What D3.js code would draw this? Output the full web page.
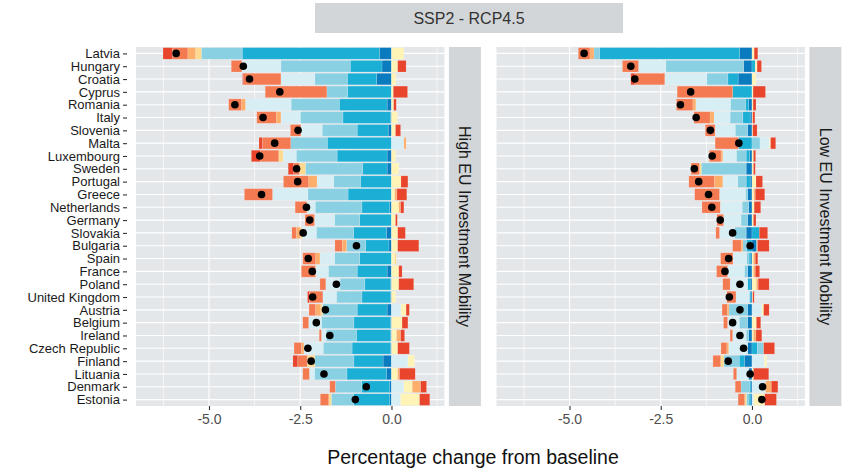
<!DOCTYPE html>
<html>
<head>
<meta charset="utf-8">
<script src="https://cdn.jsdelivr.net/npm/d3@7"></script>
<style>
  html, body { margin: 0; padding: 0; background: #fff; }
  svg { display: block; font-family: "Liberation Sans", Arial, sans-serif; }
</style>
</head>
<body>
<div id="chart"></div>
<script>
// Decomposition of the change from baseline, SSP2 - RCP4.5

const countries = [
  "Latvia", "Hungary", "Croatia", "Cyprus", "Romania", "Italy", "Slovenia",
  "Malta", "Luxembourg", "Sweden", "Portugal", "Greece", "Netherlands",
  "Germany", "Slovakia", "Bulgaria", "Spain", "France", "Poland",
  "United Kingdom", "Austria", "Belgium", "Ireland", "Czech Republic",
  "Finland", "Lituania", "Denmark", "Estonia"
];

// nine components, stacked outwards from zero in this order
const components = ["k1", "k2", "k3", "k4", "k5", "k6", "k7", "k8", "k9"];
const componentColors = [
  "#0b7bbf", "#1cafd6", "#8ad0e3", "#d7eef5", "#fff3b5",
  "#fed98e", "#fdae6b", "#f47a52", "#e8452c"
];

const scenario = "SSP2 - RCP4.5";
const facetNames = ["High EU Investment Mobility", "Low EU Investment Mobility"];
const xTicks = [-5, -2.5, 0];

// High EU investment mobility, one row per country (k1 ... k9)
const highMobility = [
  [-0.33, -3.76, -1.12,  0.00, 0.34, -0.16, -0.21, -0.43, -0.25],
  [-0.26, -0.87, -1.90, -1.07, 0.17,  0.00,  0.00, -0.29,  0.23],
  [-0.41, -0.80, -0.89, -0.93, 0.12,  0.00,  0.00, -1.02, -0.03],
  [ 0.00, -1.20, -0.57,  0.00, 0.05,  0.00,  0.00, -1.69,  0.39],
  [-0.12, -1.31, -1.32, -1.25, 0.06,  0.00, -0.11, -0.35,  0.07],
  [-0.03, -1.30, -1.17, -0.53, 0.16,  0.00, -0.13, -0.53,  0.00],
  [-0.09, -0.85, -0.96, -0.58, 0.11,  0.00,  0.00, -0.29,  0.14],
  [ 0.00, -1.76, -1.00,  0.34, 0.00,  0.00,  0.06, -0.78, -0.09],
  [-0.12, -1.37, -1.12, -0.36, 0.11, -0.12,  0.00, -0.50, -0.25],
  [-0.12, -0.67, -1.57,  0.00, 0.20, -0.16,  0.00, -0.16, -0.15],
  [ 0.00, -0.85, -0.73, -0.46, 0.26,  0.00, -0.23, -0.69,  0.19],
  [ 0.00, -1.19, -1.10, -0.97, 0.09,  0.00,  0.06, -0.77,  0.27],
  [-0.05, -0.76, -1.28, -0.23, 0.20,  0.00,  0.05, -0.32,  0.09],
  [ 0.00, -0.87, -0.69, -0.55, 0.11,  0.00,  0.00, -0.26,  0.05],
  [-0.14, -0.90, -1.02, -0.39, 0.17, -0.05, -0.11, -0.12,  0.21],
  [-0.07, -0.64, -0.52,  0.00, 0.17,  0.00, -0.12, -0.20,  0.58],
  [ 0.00, -0.87, -0.69, -0.40, 0.09,  0.04, -0.12, -0.35,  0.00],
  [-0.12, -0.82, -0.79, -0.35, 0.20,  0.00,  0.00, -0.39,  0.09],
  [-0.03, -0.70, -0.68, -0.39, 0.20,  0.00,  0.00, -0.16,  0.41],
  [-0.03, -0.78, -0.70, -0.37, 0.11,  0.00,  0.00, -0.37, -0.05],
  [-0.12, -0.82, -0.95,  0.26, 0.14, -0.05, -0.14, -0.18,  0.09],
  [-0.03, -1.00, -0.89, -0.35, 0.29,  0.00,  0.00, -0.16,  0.16],
  [-0.03, -0.93, -0.83, -0.13, 0.14,  0.00,  0.11, -0.06,  0.11],
  [-0.03, -1.05, -0.79, -0.53, 0.17,  0.00, -0.07, -0.20,  0.32],
  [-0.23, -0.80, -1.07,  0.45, 0.18, -0.21,  0.00, -0.26, -0.13],
  [-0.14, -1.08, -0.89, -0.14, 0.17,  0.00,  0.05, -0.18,  0.43],
  [-0.05, -0.77, -0.72,  0.34, 0.23,  0.00,  0.23, -0.15,  0.16],
  [-0.05, -0.99, -0.61,  0.25, 0.52, -0.07,  0.00, -0.23,  0.28]
];
const highNet = [
  -5.90, -4.06, -3.89, -3.06, -4.29, -3.52, -2.56, -3.20, -3.61, -2.60,
  -2.57, -3.56, -2.33, -2.24, -2.42, -0.96, -2.28, -2.17, -1.51, -2.16,
  -1.81, -2.06, -1.69, -2.29, -2.20, -1.85, -0.69, -0.99
];

// Low EU investment mobility
const lowMobility = [
  [-0.34, -3.84, -0.15,  0.00, 0.06,  0.00, -0.11, -0.32,  0.10],
  [-0.23,  0.09, -2.13, -0.75, 0.05,  0.00,  0.00, -0.44,  0.12],
  [-0.38, -0.28, -0.58, -1.15, 0.11,  0.00,  0.00, -0.82, -0.11],
  [ 0.00, -0.53,  0.00,  0.00, 0.03,  0.00,  0.00, -1.52,  0.34],
  [-0.09, -0.09, -0.41, -0.95, 0.03,  0.00, -0.08, -0.45,  0.08],
  [-0.05, -0.20, -0.35, -0.44, 0.02,  0.00, -0.11, -0.44,  0.06],
  [-0.12,  0.00, -0.34, -0.55, 0.02,  0.00,  0.00, -0.27,  0.12],
  [ 0.00, -0.37,  0.22,  0.26, 0.03,  0.00,  0.00, -0.64,  0.14],
  [-0.07, -0.09, -0.27, -0.37, 0.04,  0.00, -0.05, -0.32,  0.06],
  [-0.16,  0.00, -1.23,  0.00, 0.04, -0.05,  0.00, -0.23,  0.05],
  [-0.05, -0.11, -0.23, -0.41, 0.11,  0.00, -0.23, -0.70,  0.18],
  [-0.12,  0.00, -0.06, -0.71, 0.05,  0.00,  0.04, -0.68,  0.26],
  [-0.09,  0.00, -0.18, -0.60, 0.06,  0.00,  0.00, -0.50,  0.18],
  [-0.12,  0.00, -0.18, -0.48, 0.04,  0.00,  0.00, -0.18,  0.07],
  [-0.16,  0.20, -0.32, -0.41, 0.00,  0.00,  0.00, -0.10,  0.23],
  [ 0.13, -0.15, -0.10,  0.00, 0.02,  0.00, -0.05, -0.23,  0.32],
  [-0.03, -0.05, -0.07, -0.37, 0.04,  0.00,  0.05, -0.34,  0.07],
  [-0.12,  0.00, -0.09, -0.46, 0.04,  0.00,  0.05, -0.30,  0.12],
  [-0.05, -0.07,  0.00, -0.48, 0.12,  0.00,  0.05, -0.20,  0.30],
  [-0.03, -0.04,  0.00, -0.37, 0.02,  0.00,  0.00, -0.25,  0.04],
  [-0.12,  0.00, -0.51,  0.27, 0.05,  0.00, -0.05, -0.14,  0.15],
  [-0.12,  0.00, -0.23, -0.32, 0.12,  0.00,  0.00, -0.11,  0.12],
  [-0.09,  0.00, -0.07, -0.37, 0.04,  0.00,  0.07, -0.07,  0.16],
  [-0.12,  0.15,  0.17, -0.52, 0.00,  0.00, -0.05, -0.16,  0.30],
  [-0.21, -0.14, -0.42,  0.34, 0.06, -0.09,  0.00, -0.21,  0.00],
  [-0.09,  0.00,  0.00, -0.33, 0.04,  0.00,  0.00, -0.09,  0.42],
  [-0.03, -0.04, -0.23,  0.37, 0.00,  0.00,  0.16, -0.16,  0.18],
  [-0.03, -0.05, -0.07,  0.05, 0.30, -0.05,  0.00, -0.18,  0.32]
];
const lowNet = [
  -4.60, -3.32, -3.21, -1.68, -1.96, -1.53, -1.14, -0.36, -1.09, -1.58,
  -1.46, -1.19, -1.10, -0.87, -0.53, -0.05, -0.64, -0.74, -0.33, -0.62,
  -0.33, -0.53, -0.33, -0.23, -0.65, -0.05,  0.29,  0.27
];

const width = 843;
const height = 472;
const panelTop = 47;
const panelBottom = 406;
const xDomain = [-7.0, 1.45];

const panels = [
  { name: facetNames[0], rows: highMobility, net: highNet, left: 136, right: 444.4, labels: true },
  { name: facetNames[1], rows: lowMobility, net: lowNet, left: 496.5, right: 804.9, labels: false }
];

const svg = d3.select("#chart")
  .append("svg")
  .attr("width", width)
  .attr("height", height);

const y = d3.scalePoint()
  .domain(countries)
  .range([panelTop, panelBottom])
  .padding(0.5);
const barHeight = y.step() * 0.9;

const stack = d3.stack()
  .keys(components)
  .order(d3.stackOrderNone)
  .offset(d3.stackOffsetDiverging);

panels.forEach(panel => {
  const x = d3.scaleLinear().domain(xDomain).range([panel.left, panel.right]);
  const g = svg.append("g");

  // panel background and grid
  g.append("rect")
    .attr("x", panel.left).attr("y", panelTop)
    .attr("width", panel.right - panel.left)
    .attr("height", panelBottom - panelTop)
    .attr("fill", "#e4e7ea");

  const minor = [-6.25, -3.75, -1.25, 1.25];
  g.selectAll(".minor").data(minor).join("line")
    .attr("x1", d => x(d)).attr("x2", d => x(d))
    .attr("y1", panelTop).attr("y2", panelBottom)
    .attr("stroke", "#fff").attr("stroke-width", 0.6);

  g.selectAll(".major").data(xTicks).join("line")
    .attr("x1", d => x(d)).attr("x2", d => x(d))
    .attr("y1", panelTop).attr("y2", panelBottom)
    .attr("stroke", "#fff").attr("stroke-width", 1.1);

  g.selectAll(".hgrid").data(countries).join("line")
    .attr("x1", panel.left).attr("x2", panel.right)
    .attr("y1", d => y(d)).attr("y2", d => y(d))
    .attr("stroke", "#fff").attr("stroke-width", 1.1);

  // stacked components
  const table = countries.map((c, i) => {
    const row = { country: c };
    components.forEach((k, j) => { row[k] = panel.rows[i][j]; });
    return row;
  });
  const series = stack(table);

  g.selectAll(".layer").data(series).join("g")
    .attr("fill", (d, i) => componentColors[i])
    .selectAll("rect")
    .data(d => d.filter(s => s[1] - s[0] !== 0))
    .join("rect")
    .attr("x", s => x(Math.min(s[0], s[1])))
    .attr("width", s => Math.abs(x(s[1]) - x(s[0])))
    .attr("y", s => y(s.data.country) - barHeight / 2)
    .attr("height", barHeight)
    .attr("stroke", "#fff")
    .attr("stroke-opacity", 0.3)
    .attr("stroke-width", 0.5);

  // net change
  g.selectAll(".net").data(countries).join("circle")
    .attr("cx", (d, i) => x(panel.net[i]))
    .attr("cy", d => y(d))
    .attr("r", 3.8)
    .attr("fill", "#000");

  // x axis
  const xAxis = g.append("g")
    .attr("transform", `translate(0,${panelBottom})`)
    .call(d3.axisBottom(x).tickValues(xTicks).tickSize(4).tickPadding(4)
      .tickFormat(d => d.toFixed(1)));
  xAxis.select(".domain").remove();
  xAxis.selectAll("line").attr("stroke", "#333").attr("stroke-width", 1.1);
  xAxis.selectAll("text")
    .attr("fill", "#4d4d4d")
    .style("font-size", "14px")
    .style("font-family", "'Liberation Sans', Arial, sans-serif");

  // y axis, left panel only
  if (panel.labels) {
    const yAxis = g.append("g")
      .attr("transform", "translate(127,0)")
      .call(d3.axisLeft(y).tickSize(4).tickPadding(3));
    yAxis.select(".domain").remove();
    yAxis.selectAll("line").attr("stroke", "#333").attr("stroke-width", 1.1);
    yAxis.selectAll("text")
      .attr("fill", "#1a1a1a")
      .style("font-size", "13px")
      .style("font-family", "'Liberation Sans', Arial, sans-serif");
  }

  // facet strip on the right of the panel
  const stripX = panel.right + 4.5;
  g.append("rect")
    .attr("x", stripX).attr("y", panelTop)
    .attr("width", 32).attr("height", panelBottom - panelTop)
    .attr("fill", "#d3d6d9");
  g.append("text")
    .attr("transform", `translate(${stripX + 16},${(panelTop + panelBottom) / 2}) rotate(90)`)
    .attr("text-anchor", "middle")
    .attr("dominant-baseline", "central")
    .attr("fill", "#1a1a1a")
    .style("font-size", "16px")
    .text(panel.name);
});

// scenario strip on top
svg.append("rect")
  .attr("x", 315).attr("y", 3)
  .attr("width", 308).attr("height", 30)
  .attr("fill", "#d3d6d9");
svg.append("text")
  .attr("x", 469).attr("y", 18)
  .attr("text-anchor", "middle")
  .attr("dominant-baseline", "central")
  .attr("fill", "#333")
  .style("font-size", "16px")
  .text(scenario);

// axis title
svg.append("text")
  .attr("x", 473).attr("y", 457)
  .attr("text-anchor", "middle")
  .attr("dominant-baseline", "central")
  .attr("fill", "#111")
  .style("font-size", "19.5px")
  .text("Percentage change from baseline");
</script>
</body>
</html>
